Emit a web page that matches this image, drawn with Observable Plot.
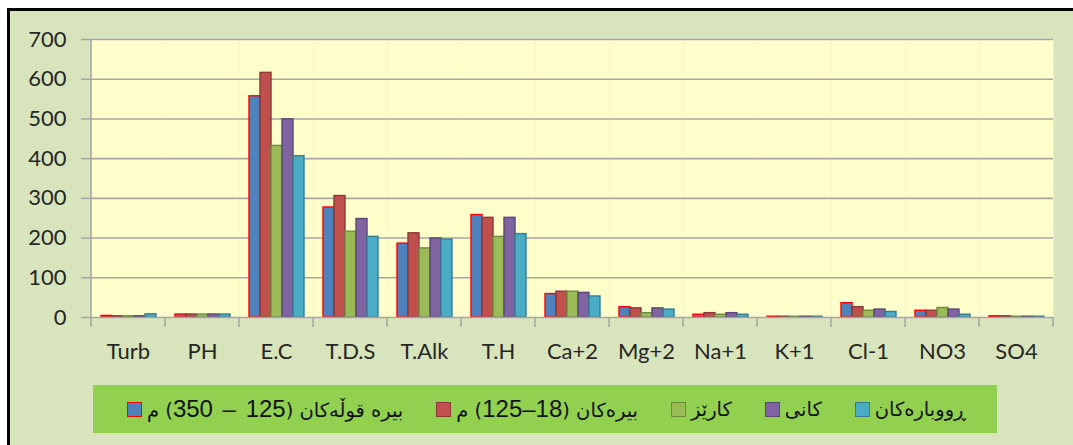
<!DOCTYPE html>
<html>
<head>
<meta charset="utf-8">
<script src="https://cdn.jsdelivr.net/npm/d3@7"></script>
<script src="https://cdn.jsdelivr.net/npm/@observablehq/plot@0.6"></script>
<style>
  html, body { margin: 0; padding: 0; background: #ffffff; width: 1073px; height: 445px; overflow: hidden; }
  #panel { position: absolute; left: 7px; top: 8px; width: 1066px; height: 437px; background: #d8e4bc;
           border-top: 3px solid #000; border-left: 3px solid #000; }
  #chart { position: absolute; left: 10px; top: 11px; }
  #legend { position: absolute; left: 93px; top: 385px; width: 904px; height: 48px; background: #92d050;
            display: flex; align-items: center; gap: 33px; padding-left: 34px; box-sizing: border-box; }
  .item { display: flex; align-items: center; gap: 5px; }
  .sw { width: 13px; height: 13px; border: 1.5px solid; flex: none; }
  .lab { font-family: "DejaVu Sans", sans-serif; font-size: 19.5px; color: #111; white-space: nowrap; }
  .num { font-family: "Liberation Sans", Arial, sans-serif; font-size: 24px; letter-spacing: 1.5px; word-spacing: 3px; }
</style>
</head>
<body>
<div id="panel"></div>
<div id="chart"></div>
<div id="legend"></div>
<script>
const categories = ["Turb", "PH", "E.C", "T.D.S", "T.Alk", "T.H", "Ca+2", "Mg+2", "Na+1", "K+1", "Cl-1", "NO3", "SO4"];
const series = ["بیره قوڵەکان (125 – 350) م", "بیرەکان (18–125) م", "کارێز", "کانی", "ڕووبارەکان"];
const deepWells = [4, 7.5, 557, 277, 186, 258, 59, 26, 7, 2, 36, 17, 3];
const wells     = [3, 7.5, 616, 306, 212, 251, 65, 23, 11, 2, 26, 17, 3];
const karez     = [3, 7.5, 432, 216, 174, 203, 65, 11, 7, 2, 17, 24, 2];
const springs   = [3, 7.5, 499, 248, 199, 251, 62, 23, 11, 2, 20, 20, 2];
const rivers    = [8, 7.5, 406, 203, 196, 210, 53, 20, 7, 2, 14, 7, 2];
const fills   = ["#4f81bd", "#c0504d", "#9bbb59", "#8064a2", "#4bacc6"];
const strokes = ["#ff0000", "#8c3836", "#71893f", "#5c4776", "#357d91"];
const yTicks = [0, 100, 200, 300, 400, 500, 600, 700];

const seriesValues = [deepWells, wells, karez, springs, rivers];
const rows = [];
categories.forEach((c, i) => {
  series.forEach((s, j) => {
    rows.push({cat: c, series: s, value: seriesValues[j][i], fill: fills[j], stroke: strokes[j]});
  });
});

const W = 1063, H = 356, mL = 81, mR = 20, mT = 28, mB = 50;
const chart = Plot.plot({
  width: W, height: H,
  marginLeft: mL, marginRight: mR, marginTop: mT, marginBottom: mB,
  style: {background: "transparent", fontFamily: "Lato, sans-serif", fontSize: "22px", color: "#262626", overflow: "visible"},
  fx: {domain: categories, padding: 0, label: null},
  x: {domain: series, paddingInner: 0, paddingOuter: 0.7, axis: null},
  y: {domain: [0, 700], label: null},
  color: {type: "identity"},
  marks: [
    Plot.frame({fill: "#ffffcc", stroke: null}),
    Plot.ruleY(yTicks.slice(1), {stroke: "#a6a6a6", strokeWidth: 1.6}),
    Plot.barY(rows, {fx: "cat", x: "series", y: "value", fill: "fill", stroke: "stroke", strokeWidth: 1.4}),
    Plot.ruleY([0], {stroke: "#a6a6a6", strokeWidth: 1.6}),
    Plot.axisY({ticks: yTicks, tickSize: 10, tickPadding: 15, stroke: "#a6a6a6", fill: "#262626", label: null, strokeWidth: 1.5}),
    Plot.axisFx({anchor: "bottom", tickSize: 0, tickPadding: 26, fill: "#262626", label: null})
  ]
});
document.getElementById("chart").appendChild(chart);

// boundary ticks and y-axis line from the scales
const fx = chart.scale("fx");
const y = chart.scale("y");
const svg = d3.select(chart);
const g = svg.append("g").attr("stroke", "#a6a6a6").attr("stroke-width", 1.5);
const bounds = categories.map(c => fx.apply(c));
bounds.push(fx.apply(categories[categories.length - 1]) + fx.bandwidth);
const y0 = y.apply(0);
bounds.forEach(x => g.append("line").attr("x1", x).attr("x2", x).attr("y1", y0).attr("y2", y0 + 10));
g.append("line").attr("x1", bounds[0]).attr("x2", bounds[0]).attr("y1", y.apply(700)).attr("y2", y0);

// legend
const legend = document.getElementById("legend");
series.forEach((s, j) => {
  const item = document.createElement("div");
  item.className = "item";
  const sw = document.createElement("span");
  sw.className = "sw";
  sw.style.background = fills[j];
  sw.style.borderColor = strokes[j];
  const lab = document.createElement("span");
  lab.className = "lab";
  lab.dir = "rtl";
  lab.innerHTML = s.replace(/(\d[\d\s–-]*\d)/g, '<span class="num">$1</span>');
  item.appendChild(sw);
  item.appendChild(lab);
  legend.appendChild(item);
});
</script>
</body>
</html>
